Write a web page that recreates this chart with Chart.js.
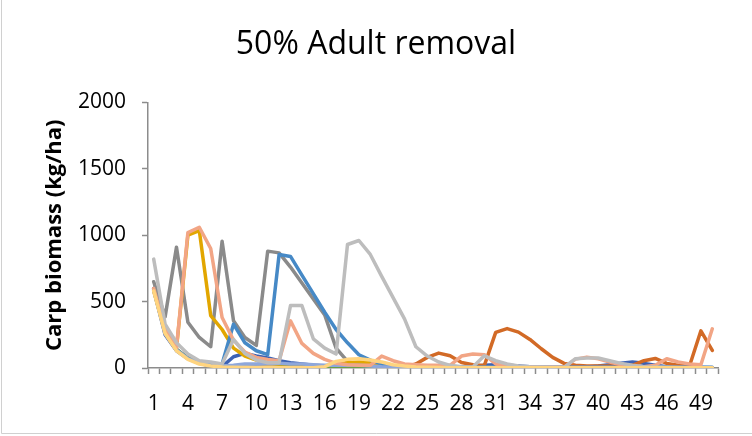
<!DOCTYPE html>
<html>
<head>
<meta charset="utf-8">
<title>50% Adult removal</title>
<script src="https://cdn.jsdelivr.net/npm/chart.js@4.4.1/dist/chart.umd.min.js"></script>
<style>
  html, body { margin: 0; padding: 0; background: #ffffff; }
  #carpChart { display: block; }
</style>
</head>
<body>
<canvas id="carpChart" width="752" height="436"></canvas>
<script>
'use strict';

// years on the x axis
var years = [1, 2, 3, 4, 5, 6, 7, 8, 9, 10, 11, 12, 13, 14, 15, 16, 17, 18, 19, 20,
  21, 22, 23, 24, 25, 26, 27, 28, 29, 30, 31, 32, 33, 34, 35, 36, 37, 38, 39, 40,
  41, 42, 43, 44, 45, 46, 47, 48, 49, 50];

var yTicks = [0, 500, 1000, 1500, 2000];

// one array per simulation run, carp biomass in kg/ha
var run1 = [590, 250, 130, 70, 35, 15, 10, 85, 110, 90, 75, 55, 40, 30, 20, 15, 10, 8, 6, 5,
  4, 3, 2, 2, 2, 2, 3, 4, 10, 20, 25, 20, 15, 10, 8, 6, 5, 5, 8, 15,
  25, 35, 45, 35, 20, 10, 6, 4, 3, 2];
var run2 = [600, 270, 140, 75, 40, 20, 12, 8, 6, 5, 5, 5, 5, 4, 4, 3, 3, 3, 3, 3,
  3, 3, 5, 30, 80, 112, 92, 42, 25, 18, 268, 297, 270, 215, 145, 80, 35, 20, 15, 15,
  15, 15, 20, 55, 72, 35, 20, 15, 280, 132];
var run3 = [650, 385, 910, 345, 230, 160, 955, 355, 230, 170, 880, 867, 760, 640, 520, 400, 150, 50, 25, 15,
  10, 8, 5, 5, 4, 3, 3, 2, 2, 2, 2, 2, 2, 2, 2, 2, 2, 2, 2, 2,
  2, 2, 2, 2, 2, 2, 2, 2, 2, 2];
var run4 = [580, 280, 150, 1000, 1035, 395, 290, 150, 90, 60, 40, 30, 25, 20, 15, 15, 30, 40, 45, 40,
  25, 15, 10, 8, 6, 5, 4, 3, 3, 3, 2, 2, 2, 2, 2, 2, 2, 2, 2, 2,
  2, 2, 2, 2, 2, 2, 2, 2, 2, 2];
var run5 = [600, 270, 140, 75, 40, 20, 30, 330, 190, 130, 100, 855, 840, 700, 560, 420, 290, 190, 100, 60,
  30, 15, 10, 8, 6, 5, 5, 5, 5, 5, 5, 5, 5, 5, 5, 5, 5, 5, 5, 5,
  5, 5, 5, 5, 5, 5, 5, 5, 5, 5];
var run6 = [595, 268, 138, 72, 38, 18, 8, 5, 4, 3, 3, 3, 3, 2, 2, 2, 2, 2, 2, 2,
  2, 2, 2, 2, 2, 2, 2, 2, 2, 2, 2, 2, 2, 2, 2, 2, 2, 2, 2, 2,
  2, 2, 2, 2, 2, 2, 2, 2, 2, 2];
var run7 = [585, 262, 136, 70, 38, 20, 15, 20, 30, 30, 35, 35, 30, 30, 25, 20, 20, 20, 20, 15,
  10, 8, 5, 5, 5, 4, 4, 4, 4, 4, 4, 4, 4, 4, 4, 4, 4, 4, 4, 4,
  4, 4, 4, 4, 4, 4, 4, 4, 4, 4];
var run8 = [600, 290, 155, 1020, 1060, 900, 380, 210, 120, 80, 65, 55, 355, 185, 110, 65, 35, 25, 20, 20,
  90, 55, 30, 25, 20, 20, 20, 90, 105, 100, 30, 15, 10, 8, 6, 5, 5, 67, 82, 70,
  45, 25, 15, 10, 20, 70, 45, 30, 25, 295];
var run9 = [820, 330, 190, 105, 55, 45, 30, 215, 110, 60, 40, 40, 470, 470, 220, 150, 105, 930, 960, 855,
  690, 530, 370, 160, 90, 45, 20, 10, 8, 92, 55, 30, 15, 10, 8, 5, 5, 70, 75, 75,
  55, 35, 20, 10, 8, 5, 3, 2, 2, 2];
var run10 = [580, 260, 130, 65, 30, 15, 8, 5, 3, 2, 2, 2, 2, 2, 2, 10, 50, 65, 70, 60,
  45, 25, 15, 8, 5, 3, 2, 2, 2, 2, 2, 2, 2, 2, 2, 2, 2, 2, 2, 2,
  2, 2, 2, 2, 2, 2, 2, 2, 2, 2];

var runs = [run1, run2, run3, run4, run5, run6, run7, run8, run9, run10];
var runColors = ['#3D62B3', '#D26A26', '#8A8A8A', '#E2A600', '#4689C6',
  '#6A9F45', '#8EA7DA', '#F2A585', '#BDBDBD', '#FFD47F'];

var axisGray = '#8C8C8C';
var fontName = "'Open Sans', 'Liberation Sans', sans-serif";

// excel draws later series on top, chart.js draws lowest order on top
var datasets = [];
for (var i = 0; i < runs.length; i++) {
  datasets.push({
    label: 'Run ' + (i + 1),
    data: runs[i],
    borderColor: runColors[i],
    backgroundColor: runColors[i],
    borderWidth: 3.5,
    pointRadius: 0,
    tension: 0,
    fill: false,
    borderJoinStyle: 'round',
    borderCapStyle: 'round',
    order: runs.length - i
  });
}

// thin frame round the chart like the excel chart area
var framePlugin = {
  id: 'frame',
  beforeDraw: function(chart) {
    var ctx = chart.ctx;
    ctx.save();
    ctx.fillStyle = '#ffffff';
    ctx.fillRect(0, 0, chart.width, chart.height);
    ctx.strokeStyle = '#D0D0D0';
    ctx.lineWidth = 1;
    ctx.beginPath();
    ctx.moveTo(1.5, 0);
    ctx.lineTo(1.5, 433.5);
    ctx.lineTo(chart.width, 433.5);
    ctx.stroke();
    ctx.restore();
  }
};

var getChart = document.getElementById('carpChart').getContext('2d');
var carpChart = new Chart(getChart, {
  type: 'line',
  data: {
    labels: years,
    datasets: datasets
  },
  plugins: [framePlugin],
  options: {
    responsive: false,
    animation: false,
    devicePixelRatio: 1,
    layout: {
      padding: { top: 0, left: 0, right: 0, bottom: 0 }
    },
    plugins: {
      legend: { display: false },
      tooltip: { enabled: false },
      title: {
        display: true,
        text: '50% Adult removal',
        color: '#000000',
        font: { family: fontName, size: 32, weight: 'normal' },
        padding: { top: 26, bottom: 38 }
      }
    },
    scales: {
      x: {
        type: 'category',
        offset: true,
        grid: {
          offset: true,
          drawOnChartArea: false,
          drawTicks: true,
          tickLength: 6,
          tickColor: axisGray,
          tickWidth: 1.5
        },
        border: { display: true, color: axisGray, width: 1.5 },
        ticks: {
          autoSkip: false,
          maxRotation: 0,
          minRotation: 0,
          padding: 17,
          color: '#000000',
          font: { family: fontName, size: 21 },
          callback: function(value, index) {
            return index % 3 === 0 ? String(years[index]) : '';
          }
        },
        afterFit: function(scale) {
          scale.height = 436 - 368;
        }
      },
      y: {
        min: yTicks[0],
        max: yTicks[yTicks.length - 1],
        grid: {
          drawOnChartArea: false,
          drawTicks: true,
          tickLength: 6,
          tickColor: axisGray,
          tickWidth: 1.5
        },
        border: { display: true, color: axisGray, width: 1.5 },
        afterBuildTicks: function(scale) {
          scale.ticks = yTicks.map(function(v) { return { value: v }; });
        },
        ticks: {
          padding: 16,
          color: '#000000',
          font: { family: fontName, size: 21 },
          callback: function(value) {
            return String(value);
          }
        },
        title: {
          display: true,
          text: 'Carp biomass (kg/ha)',
          color: '#000000',
          font: { family: fontName, size: 22, weight: 'bold' },
          padding: { top: 42, bottom: 0 }
        },
        afterFit: function(scale) {
          scale.width = 148;
        }
      },
      // empty strip on the right so the plot ends where the excel one does
      yRight: {
        position: 'right',
        display: true,
        grid: { display: false, drawTicks: false },
        border: { display: false },
        ticks: { display: false },
        afterFit: function(scale) {
          scale.width = 34;
        }
      }
    }
  }
});
</script>
</body>
</html>
